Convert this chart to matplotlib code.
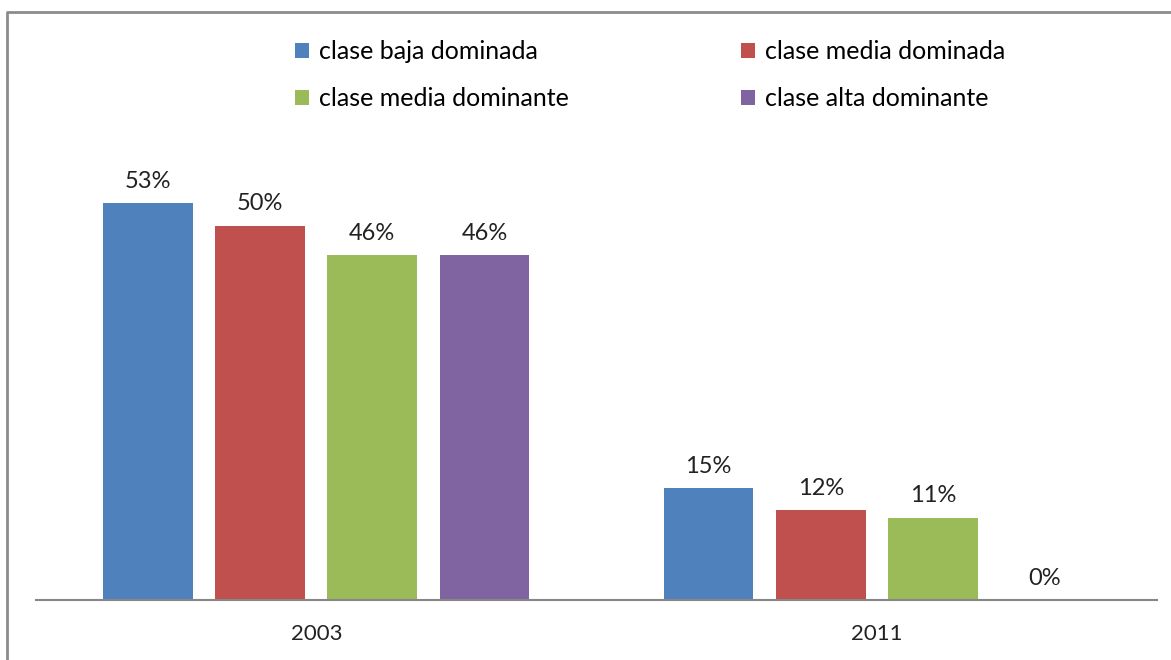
import matplotlib.pyplot as plt
from matplotlib.lines import Line2D
import numpy as np

# datos
years = ['2003', '2011']
series = ['clase baja dominada', 'clase media dominada',
          'clase media dominante', 'clase alta dominante']
values = [
    [53, 15],   # clase baja dominada
    [50, 12],   # clase media dominada
    [46, 11],   # clase media dominante
    [46, 0],    # clase alta dominante
]
colors = ['#4F81BD', '#C0504D', '#9BBB59', '#8064A2']

plt.rcParams['font.family'] = ['Lato', 'DejaVu Sans']

fig = plt.figure(figsize=(11.71, 6.6), dpi=100)
ax = fig.add_axes([36 / 1171, 60 / 660, 1121 / 1171, 449.4 / 660])

x = np.arange(len(years))
width = 0.16
offsets = [-0.3, -0.1, 0.1, 0.3]

handles = []
for i, name in enumerate(series):
    bars = ax.bar(x + offsets[i], values[i], width, color=colors[i], label=name)
    handles.append(bars)
    for xi, v in zip(x + offsets[i], values[i]):
        ax.annotate(f'{v}%', (xi, v), xytext=(0, 8), textcoords='offset points',
                    ha='center', va='bottom', fontsize=17, color='#222222')

ax.set_xlim(-0.5, 1.5)
ax.set_ylim(0, 60)
ax.set_xticks(x)
ax.set_xticklabels(years, fontsize=16, color='#222222')
ax.tick_params(axis='x', length=0, pad=17)
ax.set_yticks([])
for s in ['left', 'right', 'top']:
    ax.spines[s].set_visible(False)
ax.spines['bottom'].set_color('#868686')
ax.spines['bottom'].set_linewidth(1.5)

# la leyenda se llena por columnas: reordenar para que quede por filas
order = [0, 2, 1, 3]
fig.legend(handles=[handles[k] for k in order], labels=[series[k] for k in order],
           ncol=2, mode='expand',
           loc='lower left', bbox_to_anchor=(295 / 1171, 1 - 110 / 660, 710 / 1171, 90 / 660),
           frameon=False, fontsize=18, handlelength=0.55, handleheight=0.55,
           handletextpad=0.4, labelspacing=0.95, borderpad=0, borderaxespad=0)

# marco gris del área del gráfico
fig.add_artist(Line2D([7 / 1171, 7 / 1171, 1], [0, 1 - 12 / 660, 1 - 12 / 660],
                      transform=fig.transFigure, color='#8c8c8c', linewidth=2))

fig.savefig('out.png', dpi=100)
